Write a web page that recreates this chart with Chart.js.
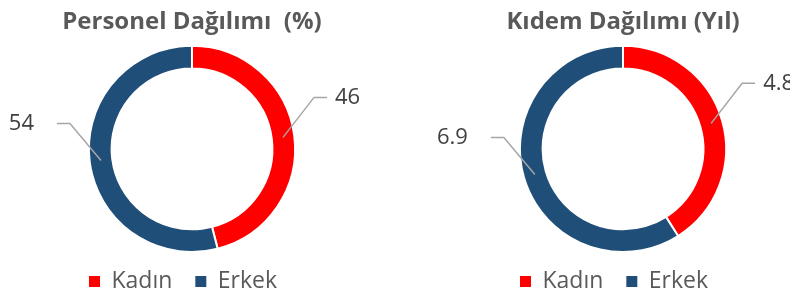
<!DOCTYPE html>
<html>
<head>
<meta charset="utf-8">
<script src="https://cdn.jsdelivr.net/npm/chart.js@4"></script>
<style>
	html, body { margin: 0; padding: 0; background: #fff; }
	body { width: 790px; height: 294px; position: relative; overflow: hidden; }
	.box { position: absolute; top: 0; height: 294px; }
</style>
</head>
<body>
<div class="box" style="left:0;width:384px"><canvas id="personelChart"></canvas></div>
<div class="box" style="left:400px;width:390px"><canvas id="kidemChart"></canvas></div>
<script>
const categories = ["Kadın", "Erkek"]
const personelValues = [46, 54]
const kidemValues = [4.8, 6.9]
const titles = ["Personel Dağılımı  (%)", "Kıdem Dağılımı (Yıl)"]

const RED = "#ff0000"
const BLUE = "#1f4e79"
const TEXT = "#595959"

// leader lines and value labels, anchored on each arc's mid point
const leaderLabels = {
	id: "leaderLabels",
	afterDatasetsDraw(chart) {
		const ctx = chart.ctx
		const meta = chart.getDatasetMeta(0)
		const values = chart.data.datasets[0].data
		const cx = (chart.chartArea.left + chart.chartArea.right) / 2
		ctx.save()
		ctx.font = "22px 'Open Sans'"
		ctx.fillStyle = "#404040"
		ctx.strokeStyle = "#a6a6a6"
		ctx.lineWidth = 1.5
		ctx.textBaseline = "middle"
		meta.data.forEach((arc, i) => {
			const p = arc.tooltipPosition()
			const right = p.x >= cx
			const dir = right ? 1 : -1
			const ex = p.x + dir * 31
			const ey = p.y - (right ? 40 : 37)
			const hx = ex + dir * 13
			ctx.beginPath()
			ctx.moveTo(p.x, p.y)
			ctx.lineTo(ex, ey)
			ctx.lineTo(hx, ey)
			ctx.stroke()
			ctx.textAlign = right ? "left" : "right"
			ctx.fillText(String(values[i]), hx + dir * (right ? 8 : 23), ey)
		})
		ctx.restore()
	}
}

function Options(title, padLeft) {
	this.responsive = true
	this.maintainAspectRatio = false
	this.animation = false
	this.cutout = "78%"
	this.layout = { padding: { top: 0, bottom: -9, left: padLeft } }
	this.plugins = {
		tooltip: { enabled: false },
		title: {
			display: true,
			text: title,
			color: TEXT,
			font: { family: "'Open Sans'", size: 24, weight: "bold" },
			padding: { top: 8, bottom: 8 }
		},
		legend: {
			position: "bottom",
			labels: {
				color: TEXT,
				font: { family: "'Open Sans'", size: 23 },
				boxWidth: 11,
				boxHeight: 11,
				padding: 17,
				generateLabels(chart) {
					const items = Chart.overrides.doughnut.plugins.legend.labels.generateLabels(chart)
					// trailing spaces widen the row so it sits a bit left, like the original
					items.forEach((it, i) => { it.text = it.text + (i === items.length - 1 ? "   " : " "); it.lineWidth = 0 })
					return items
				}
			}
		}
	}
}

function makeChart(id, values, title, padLeft) {
	return new Chart(
		document.getElementById(id),
		{
			type: "doughnut",
			data: {
				labels: categories,
				datasets: [{
					data: values,
					backgroundColor: [RED, BLUE],
					borderColor: "#ffffff",
					borderWidth: 2
				}]
			},
			options: new Options(title, padLeft),
			plugins: [leaderLabels]
		}
	)
}

const personelChart = makeChart("personelChart", personelValues, titles[0], 0)
const kidemChart = makeChart("kidemChart", kidemValues, titles[1], 56)
</script>
</body>
</html>
